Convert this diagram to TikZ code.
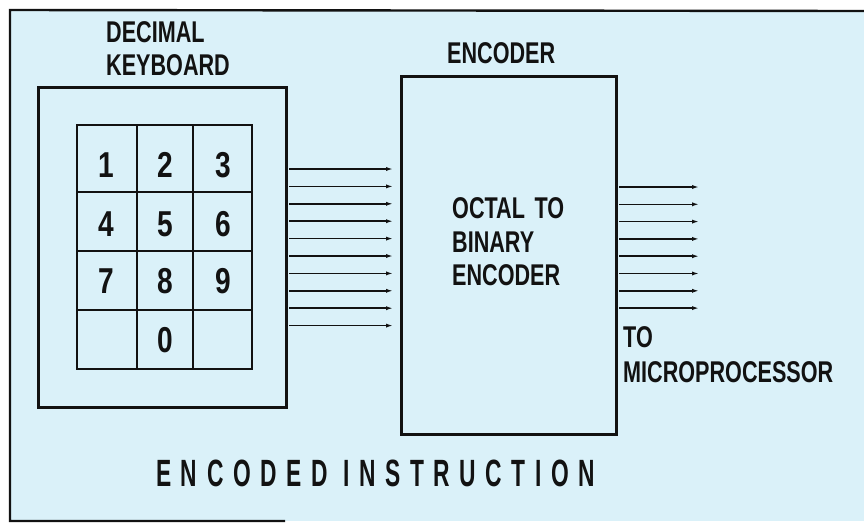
\documentclass[tikz,border=0pt]{standalone}
\usepackage{fontspec}
\setmainfont{Liberation Sans}
\newfontfamily\spacedfont[LetterSpace=42]{Liberation Sans}
\usetikzlibrary{arrows.meta}
\definecolor{paper}{HTML}{DAF1F9}
\definecolor{ink}{HTML}{121212}
\newcommand\lbl[3]{\scalebox{#2}[1]{\fontsize{#1}{#1}\selectfont\bfseries #3}}
\begin{document}
\begin{tikzpicture}[x=1pt,y=-1pt,
  lbl/.style={anchor=base west,inner sep=0pt,text=ink},
  digit/.style={inner sep=0pt,text=ink},
  frame/.style={draw=ink,line width=2.8pt,inner sep=0pt,anchor=north west},
  sig/.style={draw=ink,line width=1.5pt,-{Latex[length=7pt,width=4.2pt]}}]
\useasboundingbox (0,0) rectangle (864,523);
\fill[white] (0,0) rectangle (864,523);
\fill[paper] (10,10) rectangle (864,521);
\draw[ink,line width=2.4pt] (864,11) -- (10,10) -- (10,521) -- (285,521);

% blocks
\node[frame,minimum width=248pt,minimum height=320pt] (kb) at (37,86) {};
\node[frame,minimum width=215pt,minimum height=358pt] (enc) at (400,75) {};

% key grid
\draw[ink,line width=2.8pt] (77,125) rectangle (252,369);
\draw[ink,line width=2.8pt] (137,125) -- (137,369) (193,125) -- (193,369)
  (77,192) -- (252,192) (77,251) -- (252,251) (77,310) -- (252,310);

\node[digit] (d1) at (106,165) {\lbl{36}{0.78}{1}};
\node[digit] (d2) at (165,165) {\lbl{36}{0.78}{2}};
\node[digit] (d3) at (223,165) {\lbl{36}{0.78}{3}};
\node[digit] (d4) at (106,224) {\lbl{36}{0.78}{4}};
\node[digit] (d5) at (165,224) {\lbl{36}{0.78}{5}};
\node[digit] (d6) at (223,224) {\lbl{36}{0.78}{6}};
\node[digit] (d7) at (106,281) {\lbl{36}{0.78}{7}};
\node[digit] (d8) at (165,281) {\lbl{36}{0.78}{8}};
\node[digit] (d9) at (223,281) {\lbl{36}{0.78}{9}};
\node[digit] (d0) at (165,340) {\lbl{36}{0.78}{0}};

% labels
\node[lbl] (t1) at (106,42) {\lbl{30}{0.72}{DECIMAL}};
\node[lbl] (t2) at (106,75) {\lbl{30}{0.72}{KEYBOARD}};
\node[lbl] (t3) at (447,63) {\lbl{30}{0.72}{ENCODER}};
\node[lbl] (t4) at (452,218) {\lbl{30}{0.72}{OCTAL\ \,TO}};
\node[lbl] (t5) at (452,252) {\lbl{30}{0.72}{BINARY}};
\node[lbl] (t6) at (452,285) {\lbl{30}{0.72}{ENCODER}};
\node[lbl] (t7) at (623,347) {\lbl{30}{0.72}{TO}};
\node[lbl] (t8) at (623,382) {\lbl{30}{0.72}{MICROPROCESSOR}};
\node[lbl] (t9) at (156,486) {\scalebox{0.6}[1]{\fontsize{38}{38}\spacedfont\bfseries ENCODED INSTRUCTION}};

% keyboard -> encoder lines
\foreach \i in {0,...,9}{
  \draw[sig,shorten >=7pt] ([xshift=1.4pt]kb.east |- 0,{169+17.4*\i}) -- (enc.west |- 0,{169+17.4*\i});
}
% encoder -> microprocessor lines
\foreach \i in {0,...,7}{
  \coordinate (o\i) at (699,{187+17.3*\i});
  \draw[sig] ([xshift=1.4pt]enc.east |- o\i) -- (o\i);
}
\end{tikzpicture}
\end{document}
